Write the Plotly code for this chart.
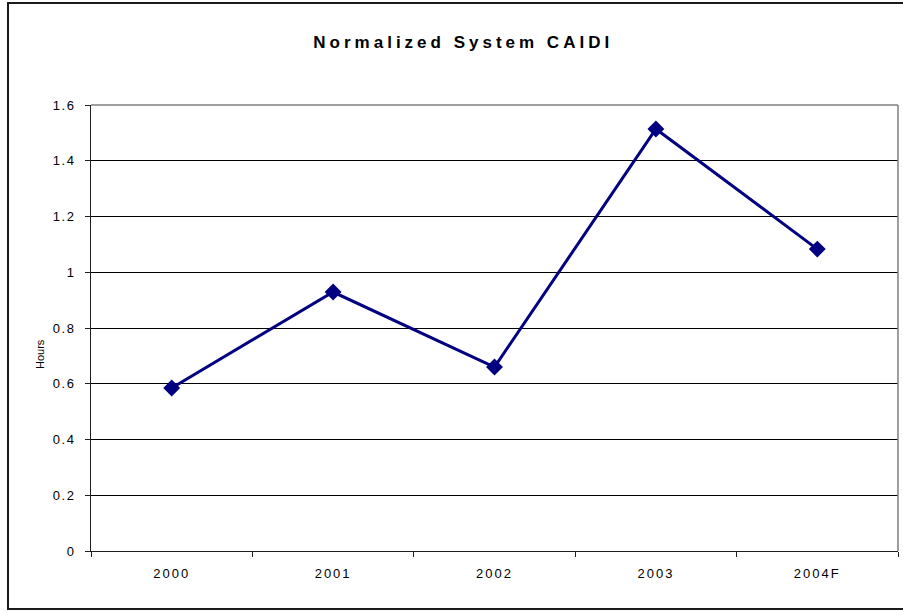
import plotly.graph_objects as go

# Normalized System CAIDI, hours per year (2004 is a forecast)
years = ["2000", "2001", "2002", "2003", "2004F"]
caidi_hours = [0.585, 0.929, 0.660, 1.514, 1.083]
y_ticks = [0, 0.2, 0.4, 0.6, 0.8, 1.0, 1.2, 1.4, 1.6]
y_tick_text = ["0", "0.2", "0.4", "0.6", "0.8", "1", "1.2", "1.4", "1.6"]

NAVY = "#000080"
FONT = "Liberation Sans, Arial, sans-serif"

fig = go.Figure()
fig.add_trace(go.Scatter(
    x=years,
    y=caidi_hours,
    mode="lines+markers",
    line=dict(color=NAVY, width=3),
    marker=dict(symbol="diamond", size=13, color=NAVY),
    showlegend=False,
    hoverinfo="x+y",
))

fig.update_layout(
    width=903,
    height=611,
    margin=dict(l=91, r=5, t=105, b=60, autoexpand=False),
    paper_bgcolor="white",
    plot_bgcolor="white",
    font=dict(family=FONT, color="#000000", size=13),
    title=dict(
        text="<b>Normalized System CAIDI</b>",
        x=0.513, xanchor="center",
        y=1 - 42 / 611, yanchor="middle",
        font=dict(family=FONT, size=17, color="#000000"),
    ),
    xaxis=dict(
        type="category",
        range=[-0.5, 4.5],
        showgrid=False,
        showline=True, linecolor="#202020", linewidth=1,
        ticks="outside", ticklen=5, tickcolor="#202020",
        tickson="boundaries",
        ticklabelstandoff=10,
        tickfont=dict(family=FONT, size=13, color="#000000"),
        zeroline=False, fixedrange=True,
    ),
    yaxis=dict(
        range=[0, 1.6],
        tickvals=y_ticks, ticktext=y_tick_text,
        showgrid=True, gridcolor="#000000", gridwidth=1,
        showline=True, linecolor="#202020", linewidth=1,
        ticks="outside", ticklen=5, tickcolor="#202020",
        ticklabelstandoff=7,
        tickfont=dict(family=FONT, size=13, color="#000000"),
        zeroline=False, fixedrange=True,
    ),
    annotations=[dict(
        text="Hours",
        xref="paper", yref="paper",
        x=(40 - 91) / 807, y=(551 - 354) / 446,
        xanchor="center", yanchor="middle",
        textangle=-90, showarrow=False,
        font=dict(family=FONT, size=11, color="#000000"),
    )],
    shapes=[
        # gray top/right border of the plotting area
        dict(type="line", xref="paper", yref="paper", x0=0, x1=1, y0=1, y1=1,
             line=dict(color="#808080", width=1.5), layer="above"),
        dict(type="line", xref="paper", yref="paper", x0=1, x1=1, y0=0, y1=1,
             line=dict(color="#808080", width=1.5), layer="above"),
        # outer chart frame
        dict(type="rect", xref="paper", yref="paper",
             x0=(8 - 91) / 807, x1=(906 - 91) / 807,
             y0=(551 - 609) / 446, y1=(551 - 3) / 446,
             line=dict(color="#1a1a1a", width=2), layer="below"),
    ],
)

spacing_js = """
var gd = document.getElementById('{plot_id}');
function spaceText() {
  gd.querySelectorAll('.gtitle').forEach(function (t) { t.style.letterSpacing = '4px'; });
  gd.querySelectorAll('.xtick text').forEach(function (t) { t.style.letterSpacing = '2px'; });
  gd.querySelectorAll('.ytick text').forEach(function (t) { t.style.letterSpacing = '1.5px'; });
}
spaceText();
gd.on('plotly_afterplot', spaceText);
"""

fig.write_html("out.html", post_script=spacing_js, config={"displayModeBar": False})
